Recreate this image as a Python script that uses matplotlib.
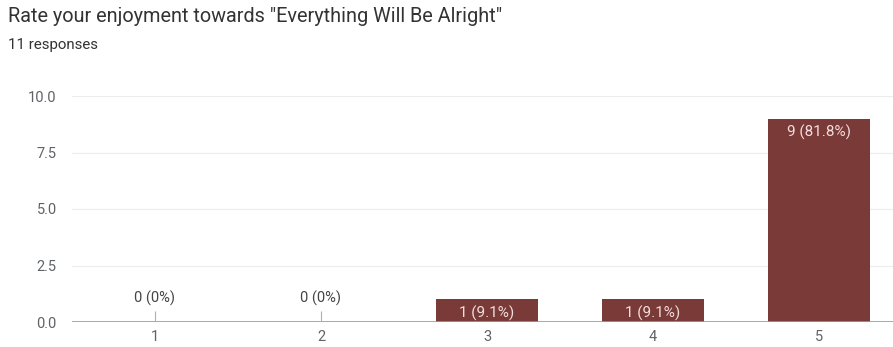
import matplotlib
matplotlib.use("Agg")
import matplotlib.pyplot as plt

plt.rcParams['font.family'] = ['Roboto', 'DejaVu Sans']

title = 'Rate your enjoyment towards "Everything Will Be Alright"'
subtitle = "11 responses"
ratings = [1, 2, 3, 4, 5]
counts = [0, 0, 1, 1, 9]
labels = ["0 (0%)", "0 (0%)", "1 (9.1%)", "1 (9.1%)", "9 (81.8%)"]
yticks = [0.0, 2.5, 5.0, 7.5, 10.0]

bar_color = "#7a3b38"
text_gray = "#5f6368"

fig = plt.figure(figsize=(8.93, 3.47), dpi=100)
ax = fig.add_axes([72 / 893, 25 / 347, 830 / 893, 226 / 347])

ax.bar(ratings, counts, width=0.61, color=bar_color, zorder=3)
ax.set_xlim(0.5, 5.5)
ax.set_ylim(0, 10)
ax.set_yticks(yticks)
ax.set_yticklabels([f"{v:.1f}" for v in yticks])
ax.set_xticks(ratings)
ax.set_xticklabels([str(r) for r in ratings])
ax.tick_params(axis="both", length=0, labelsize=10.5, colors=text_gray)
ax.tick_params(axis="y", pad=11)
ax.tick_params(axis="x", pad=6)
ax.grid(axis="y", color="#ececec", linewidth=0.8, zorder=0)
for s in ax.spines.values():
    s.set_visible(False)
ax.axhline(0, color="#9a9a9a", linewidth=1.2, zorder=4)

for r, c, lab in zip(ratings, counts, labels):
    if c == 0:
        ax.vlines(r, 0, 0.5, color="#b0b0b0", linewidth=0.8, zorder=4)
        ax.text(r, 1.05, lab, ha="center", va="center", fontsize=10.5, color="#444444")
    else:
        ax.text(r, c - 0.6, lab, ha="center", va="center", fontsize=11, color="#f3dede", zorder=5)

fig.text(8 / 893, 1 - 16 / 347, title, fontsize=14.3, color="#333333", va="center", ha="left")
fig.text(8 / 893, 1 - 45 / 347, subtitle, fontsize=10.8, color="#333333", va="center", ha="left")

fig.savefig("out.png", dpi=100)
